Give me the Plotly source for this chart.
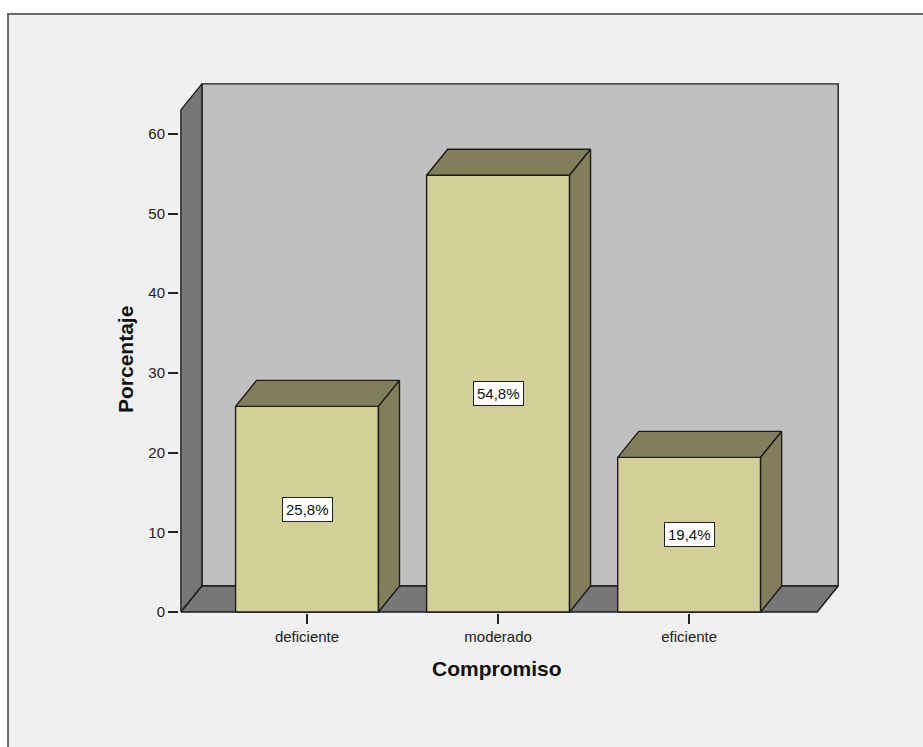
import plotly.graph_objects as go

categories = ["deficiente", "moderado", "eficiente"]
values = [25.8, 54.8, 19.4]
labels = ["25,8%", "54,8%", "19,4%"]
y_ticks = [0, 10, 20, 30, 40, 50, 60]

# geometry (data units)
half_w = 0.374
dx, dy = 0.11, 3.26
x_lo, x_hi = -0.66, 2.67
y_top = 63.0

front_col = "#d3cf99"
dark_col = "#817f5b"
edge = "#1c1c1c"
FONT = "Liberation Sans, Arial"

fig = go.Figure()

def poly(xs, ys, fill):
    fig.add_trace(go.Scatter(x=xs + [xs[0]], y=ys + [ys[0]], mode="lines", fill="toself",
                             fillcolor=fill, line=dict(color=edge, width=1.4),
                             hoverinfo="skip", showlegend=False))

# back wall
poly([x_lo + dx, x_hi + dx, x_hi + dx, x_lo + dx], [dy, dy, y_top + dy, y_top + dy], "#c0c0c0")
# left wall
poly([x_lo, x_lo, x_lo + dx, x_lo + dx], [0, y_top, y_top + dy, dy], "#777777")
# floor
poly([x_lo, x_hi, x_hi + dx, x_lo + dx], [0, 0, dy, dy], "#777777")

for i, v in enumerate(values):
    l, r = i - half_w, i + half_w
    poly([l, r, r, l], [0, 0, v, v], front_col)
    poly([l, r, r + dx, l + dx], [v, v, v + dy, v + dy], dark_col)
    poly([r, r + dx, r + dx, r], [0, dy, v + dy, v], dark_col)
    fig.add_annotation(x=i, y=v / 2, text=labels[i], showarrow=False,
                       font=dict(family=FONT, size=15, color="#111"),
                       bgcolor="white", bordercolor="#222", borderwidth=1, borderpad=3)

# plot area pixel mapping: left 179, right 842, top 82, bottom 613
PW, PH = 663, 531
def px(xp):
    return (xp - 179) / PW
def py(yp):
    return (613 - yp) / PH

fig.add_shape(type="rect", xref="paper", yref="paper",
              x0=px(8), x1=px(940), y0=py(760), y1=py(14),
              fillcolor="#f0f0f0", line=dict(color="#6a6a6a", width=2), layer="below")

fig.add_annotation(xref="paper", yref="paper", x=px(125), y=py(360),
                   xanchor="center", yanchor="middle",
                   text="<b>Porcentaje</b>", textangle=-90, showarrow=False,
                   font=dict(family=FONT, size=21, color="#111"))
fig.add_annotation(xref="paper", yref="paper", x=px(497), y=py(668),
                   xanchor="center", yanchor="middle",
                   text="<b>Compromiso</b>", showarrow=False,
                   font=dict(family=FONT, size=21, color="#111"))

fig.update_layout(
    width=923, height=747,
    margin=dict(l=179, r=81, t=82, b=134),
    paper_bgcolor="white", plot_bgcolor="rgba(0,0,0,0)",
    showlegend=False,
    xaxis=dict(range=[-0.67, 2.80], tickvals=[0, 1, 2], ticktext=categories,
               showgrid=False, zeroline=False, showline=False,
               ticks="outside", ticklen=10, tickcolor="#222", tickwidth=1.5,
               tickfont=dict(family=FONT, size=15, color="#222")),
    yaxis=dict(range=[-0.125, 66.5], tickvals=y_ticks,
               showgrid=False, zeroline=False, showline=False,
               ticks="outside", ticklen=10, tickcolor="#222", tickwidth=1.5,
               tickfont=dict(family=FONT, size=15, color="#222")),
)

fig.write_html("out.html")
